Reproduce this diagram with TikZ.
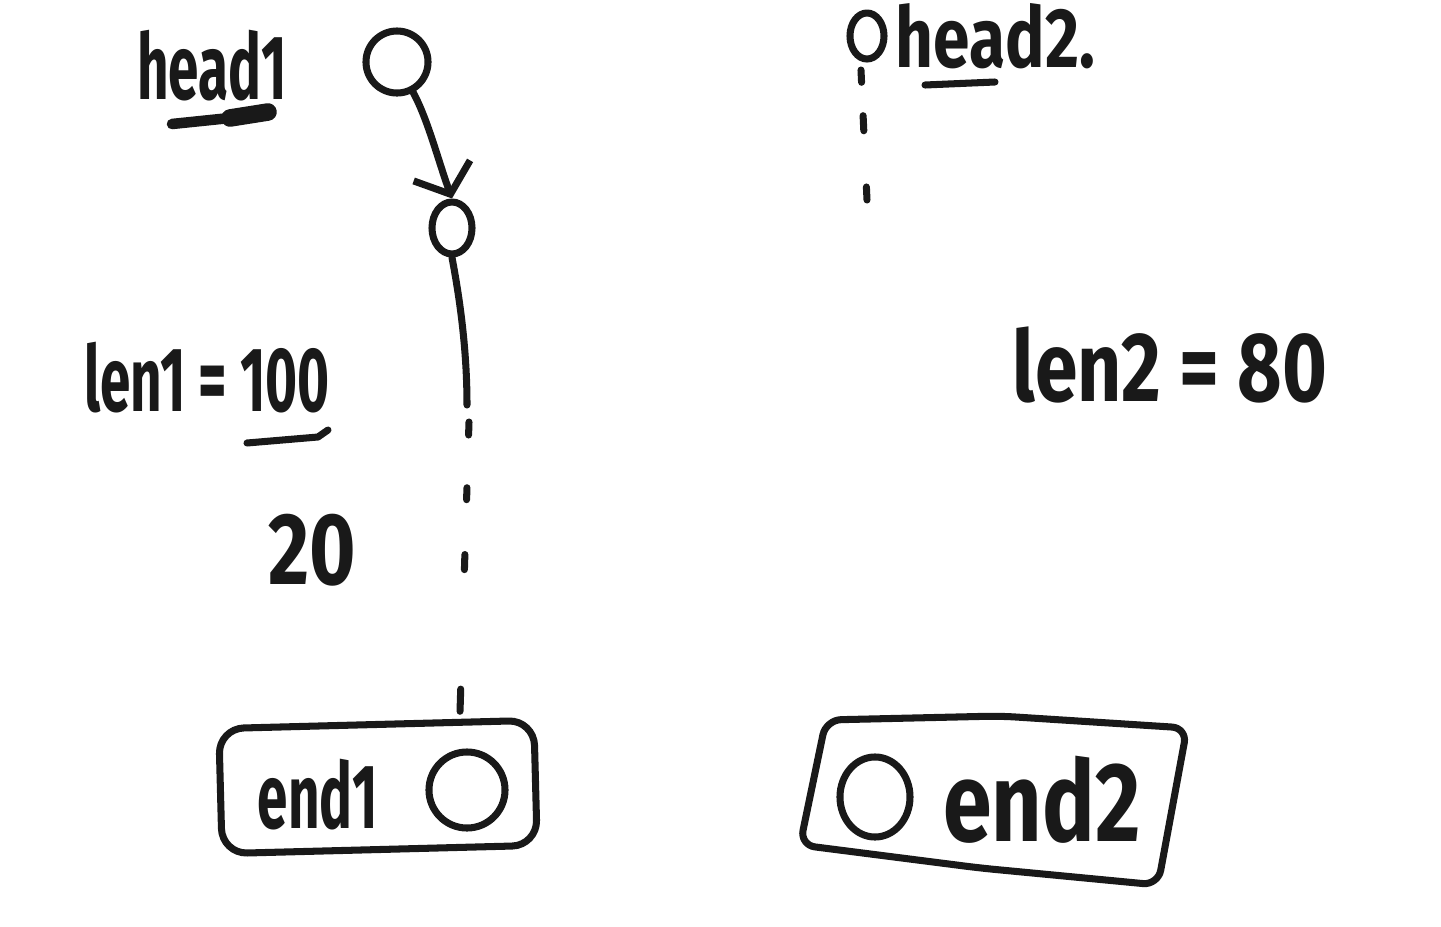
\documentclass[tikz,border=0pt]{standalone}
\usepackage{fontspec}
\newfontfamily\handfont{Fira Sans}[FakeStretch=0.6]
\newfontfamily\handwide{Fira Sans}[FakeStretch=0.78]
\usetikzlibrary{arrows.meta,positioning,shapes.geometric}

\tikzset{
  ink/.style={line width=2pt, line cap=round, line join=round, draw=black!90},
  blob/.style={ink, inner sep=0pt},
  scrawl/.style={font=\handfont\bfseries\fontsize{26}{30}\selectfont, text=black!90, inner sep=0pt},
  widescrawl/.style={scrawl, font=\handwide\bfseries\fontsize{28}{32}\selectfont},
}

\begin{document}
\begin{tikzpicture}[x=0.01cm, y=-0.01cm]

    % Page frame (pixel grid of the sketch)
    \useasboundingbox (0,0) rectangle (1441,927);

    % First list: head node and the one after it
    \node[blob, circle, minimum size=0.62cm] (headOne) at (397,62) {};
    \node[scrawl] (headOneLabel) at (212,66) {head1};
    \node[blob, ellipse, minimum width=0.4cm, minimum height=0.52cm] (nextOne) at (452,228) {};

    % Underline of head1
    \draw[ink, line width=3pt] (172,124) -- (230,118);
    \draw[ink, line width=5pt] (230,118) -- (268,112);

    % Pointer from head1 to the next node
    \draw[ink, -{Straight Barb[length=2.5mm, width=6mm]}] (headOne.-62) .. controls (428,120) and (438,160) .. (nextOne.north);

    % Rest of list 1, solid then dotted
    \coordinate (tailOne) at (467,405); % last solid point
    \coordinate (dotsOneTop) at (469,422);
    \coordinate (dotsOneEnd) at (460,712);
    \draw[ink] (nextOne.south) .. controls (460,300) and (467,350) .. (tailOne);
    \draw[ink, dash pattern=on 3.7pt off 15pt on 3.4pt off 15.6pt on 4.3pt off 34pt on 6.3pt off 10pt] (dotsOneTop) -- (dotsOneEnd);

    % Lengths
    \node[scrawl] (lenOne) at (207,378) {len1 = 100};
    \draw[ink] (247,443) -- (318,437) -- (328,430); % underline of 100
    \node[widescrawl, font=\handwide\bfseries\fontsize{29}{33}\selectfont] (twenty) at (312,550) {20};

    % end1 box with its node
    \node[ink, draw, rounded corners=0.25cm, minimum width=3.15cm, minimum height=1.25cm, rotate=1.5] (endOneBox) at (378,787) {};
    \node[scrawl] (endOneLabel) at (318,795) {end1};
    \node[blob, circle, minimum size=0.76cm] (endOne) at (467,790) {};

    % Second list: head node
    \node[blob, ellipse, minimum width=0.34cm, minimum height=0.46cm] (headTwo) at (867,36) {};
    \node[widescrawl, anchor=west, font=\handwide\bfseries\fontsize{24}{28}\selectfont] (headTwoLabel) at (895,36) {head2.};
    \draw[ink] (925,85) -- (995,82); % underline of head2

    % Dotted tail of list 2
    \coordinate (dotsTwoTop) at (861,70);
    \coordinate (dotsTwoEnd) at (867,200);
    \draw[ink, dash pattern=on 3.5pt off 9.5pt on 4.3pt off 16pt on 5pt off 10pt] (dotsTwoTop) -- (dotsTwoEnd);

    % Length of list 2
    \node[widescrawl] (lenTwo) at (1170,365) {len2 = 80};

    % end2 box, skewed
    \draw[ink, rounded corners=0.15cm] (826,720) -- (1000,716) -- (1187,728) -- (1158,885) -- (980,868) -- (800,845) -- cycle;
    \node[blob, ellipse, minimum width=0.7cm, minimum height=0.8cm] (endTwo) at (875,797) {};
    \node[widescrawl, font=\handwide\bfseries\fontsize{32}{36}\selectfont] (endTwoLabel) at (1042,800) {end2};

\end{tikzpicture}
\end{document}
